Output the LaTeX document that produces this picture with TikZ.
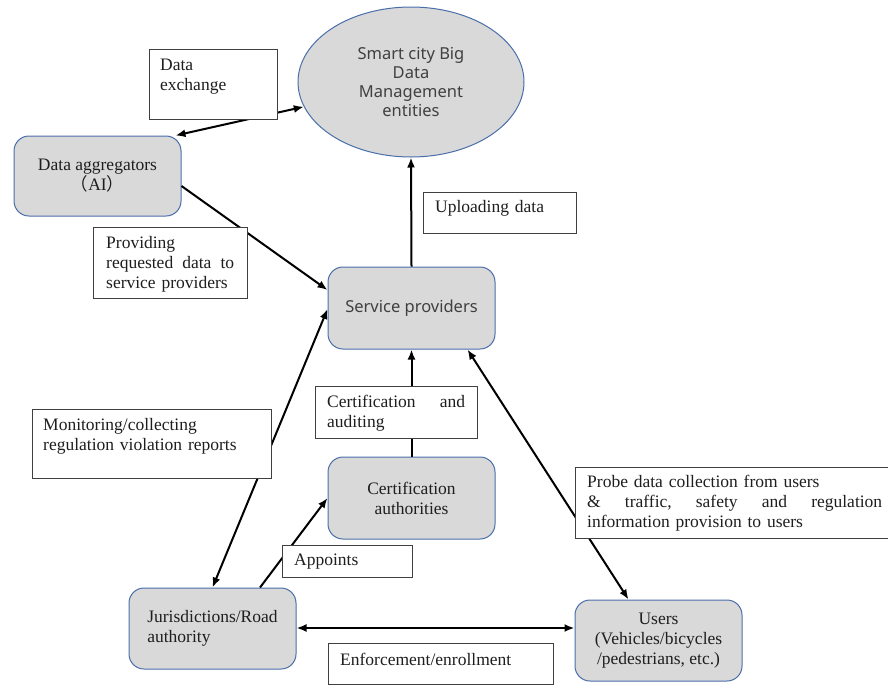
\documentclass[tikz,border=0pt]{standalone}
\usepackage{fontspec}
\setmainfont{Liberation Serif}
\newfontfamily\gothic{Noto Sans}
\newfontfamily\cjk{Noto Sans CJK JP}
\usetikzlibrary{arrows.meta,shapes.geometric}
\definecolor{boxfill}{RGB}{217,217,217}
\definecolor{boxline}{RGB}{74,110,170}
\definecolor{lblline}{RGB}{64,64,64}
\definecolor{txt}{RGB}{30,30,30}
\definecolor{sanstxt}{RGB}{64,64,64}
\begin{document}
\begin{tikzpicture}[x=1pt,y=-1pt,
  serif/.style={font=\fontsize{17.5}{20}\selectfont},
  gothicfont/.style={font=\gothic\fontsize{16.5}{19}\selectfont, text=sanstxt},
  ent/.style={draw=boxline, line width=1pt, fill=boxfill, rounded corners=15pt,
    minimum width=167pt, inner sep=0pt, text=txt, serif},
  conn/.style={draw=black, line width=2pt},
  tip/.tip={Latex[length=10pt,width=8pt]},
  lbox/.style={draw=lblline, line width=1pt, fill=white, inner sep=0pt, anchor=north west},
  ltext/.style={anchor=base west, align=left, inner sep=0pt, text=txt, serif}
]
\useasboundingbox (0,0) rectangle (888,686);

% main entities
\node[ellipse, draw=boxline, line width=1pt, fill=boxfill, minimum width=226pt,
  minimum height=150pt, inner sep=0pt, gothicfont, align=center] (bigdata) at (411,82)
  {Smart city Big\\Data\\Management\\entities};
\node[ent, minimum height=80pt, align=center] (agg) at (97.5,176)
  {Data aggregators\\{\cjk （}AI{\cjk ）}};
\node[ent, minimum height=82pt, gothicfont] (sp) at (411.5,308) {Service providers};
\node[ent, minimum height=82pt, align=center] (ca) at (411.5,498) {Certification\\authorities};
\node[ent, minimum height=81pt, align=left] (jur) at (212.5,628.5) {Jurisdictions/Road\\authority};
\node[ent, minimum height=81pt, align=center] (usr) at (658.5,640.5)
  {Users\\(Vehicles/bicycles\\/pedestrians, etc.)};
\coordinate (hline) at (0,628);

% connectors
\draw[conn, tip-tip] ([xshift=-6pt]agg.north east) -- (bigdata.193);
\draw[conn, -tip] ([yshift=-10pt]agg.east) -- ([yshift=18pt]sp.west);
\draw[conn, -tip] (sp.north) -- (bigdata.south);
\draw[conn, -tip] (ca.north) -- (sp.south);
\draw[conn, tip-tip] (jur.north) -- ([yshift=-1pt]sp.west);
\draw[conn, -tip] ([xshift=47.5pt]jur.north) -- (ca.west);
\draw[conn, tip-tip] (jur.east |- hline) -- (usr.west |- hline);
\draw[conn, tip-tip] ([xshift=-28pt]sp.south east) -- ([xshift=-30pt]usr.north);

% label boxes
\node[lbox, minimum width=128pt, minimum height=70pt] (dex) at (149,49) {};
\node[ltext, text width=110pt] (dex-t) at ([xshift=11pt,yshift=-21pt]dex.north west) {Data\\exchange};

\node[lbox, minimum width=153pt, minimum height=41pt] (upl) at (423,192) {};
\node[ltext, text width=135pt] (upl-t) at ([xshift=12pt,yshift=-20pt]upl.north west) {Uploading data};

\node[lbox, minimum width=154pt, minimum height=71pt] (prov) at (93,227) {};
\node[ltext, text width=128pt] (prov-t) at ([xshift=13pt,yshift=-21pt]prov.north west)
  {Providing\\requested\hfill data\hfill to\\service providers};

\node[lbox, minimum width=162pt, minimum height=52pt] (cert) at (315,386) {};
\node[ltext, text width=138pt] (cert-t) at ([xshift=12pt,yshift=-21pt]cert.north west)
  {Certification\hfill and\\auditing};

\node[lbox, minimum width=239pt, minimum height=69pt] (mon) at (32,409) {};
\node[ltext, text width=220pt] (mon-t) at ([xshift=11pt,yshift=-21pt]mon.north west)
  {Monitoring/collecting\\regulation violation reports};

\node[lbox, minimum width=130pt, minimum height=32pt] (app) at (282,545) {};
\node[ltext, text width=110pt] (app-t) at ([xshift=12pt,yshift=-20pt]app.north west) {Appoints};

\node[lbox, minimum width=225pt, minimum height=41pt] (enf) at (328,643) {};
\node[ltext, text width=205pt] (enf-t) at ([xshift=12pt,yshift=-22pt]enf.north west) {Enforcement/enrollment};

\node[lbox, minimum width=330pt, minimum height=71pt] (probe) at (575,467) {};
\node[ltext, text width=295pt] (probe-t) at ([xshift=12pt,yshift=-20pt]probe.north west)
  {Probe data collection from users\\\&\hfill traffic,\hfill safety\hfill and\hfill regulation\\information provision to users};
\end{tikzpicture}
\end{document}
